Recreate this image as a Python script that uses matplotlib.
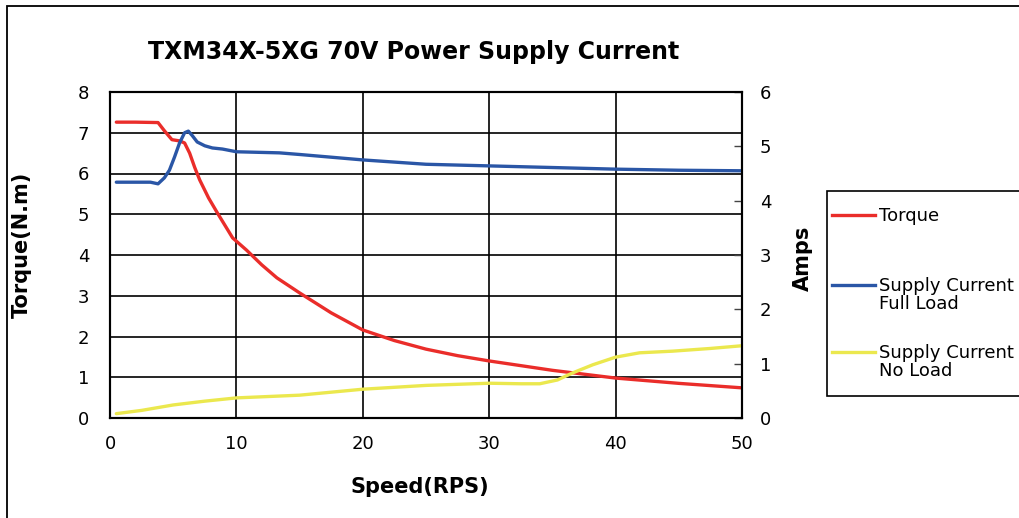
import matplotlib
matplotlib.use("Agg")
import matplotlib.pyplot as plt
from matplotlib.patches import Rectangle
from matplotlib.lines import Line2D

plt.rcParams['font.family'] = ['DejaVu Sans']

# Torque (N.m) vs speed (RPS)
torque_speed = [0.5, 2.0, 3.8, 4.3, 4.9, 5.5, 5.9, 6.3, 6.7, 7.1, 7.8, 8.5, 9.7, 10.8, 12.0, 13.2, 15.0, 17.5, 20.0, 22.5, 25.0, 27.5, 30.0, 35.0, 40.0, 45.0, 50.0]
torque = [7.26, 7.26, 7.25, 7.05, 6.83, 6.80, 6.75, 6.50, 6.15, 5.84, 5.40, 5.03, 4.42, 4.12, 3.76, 3.44, 3.07, 2.58, 2.16, 1.90, 1.69, 1.53, 1.40, 1.17, 0.98, 0.85, 0.74]

# Supply current full load (A)
full_speed = [0.5, 2.0, 3.2, 3.8, 4.3, 4.7, 5.1, 5.5, 5.9, 6.2, 6.5, 6.9, 7.5, 8.1, 8.9, 10.0, 13.4, 15.0, 17.5, 20.0, 25.0, 30.0, 35.0, 40.0, 45.0, 50.0]
full_load = [4.34, 4.34, 4.34, 4.31, 4.42, 4.56, 4.80, 5.06, 5.25, 5.28, 5.20, 5.08, 5.01, 4.97, 4.95, 4.90, 4.88, 4.85, 4.80, 4.75, 4.67, 4.64, 4.61, 4.58, 4.56, 4.55]

# Supply current no load (A)
noload_speed = [0.5, 2.5, 5.0, 7.5, 10.0, 15.0, 20.0, 25.0, 30.0, 32.5, 34.0, 35.4, 36.6, 38.2, 40.0, 41.9, 44.5, 47.5, 50.0]
no_load = [0.08, 0.14, 0.24, 0.31, 0.37, 0.42, 0.53, 0.60, 0.64, 0.63, 0.63, 0.70, 0.83, 0.98, 1.12, 1.20, 1.23, 1.28, 1.33]

x_ticks = [0, 10, 20, 30, 40, 50]
y_left_ticks = [0, 1, 2, 3, 4, 5, 6, 7, 8]
y_right_ticks = [0, 1, 2, 3, 4, 5, 6]
series_labels = ['Torque', 'Supply Current\nFull Load', 'Supply Current\nNo Load']

RED = '#EA2D2A'
BLUE = '#2A56A6'
YELLOW = '#EBE84E'

W, H = 1019, 518
fig = plt.figure(figsize=(W / 100, H / 100), dpi=100)
fx = lambda px: px / W
fy = lambda py: 1 - py / H

fig.add_artist(Rectangle((fx(7), -0.2), 1.5, 1.2 - 6 / H, transform=fig.transFigure,
                         fill=False, edgecolor='black', linewidth=1.3))

ax = fig.add_axes([fx(110), fy(418), 632 / W, 326 / H])
ax2 = ax.twinx()

ax.plot(torque_speed, torque, color=RED, lw=2.4, solid_capstyle='round')
ax2.plot(full_speed, full_load, color=BLUE, lw=2.4, solid_capstyle='round')
ax2.plot(noload_speed, no_load, color=YELLOW, lw=2.4, solid_capstyle='round')

ax.set_xlim(0, 50)
ax.set_ylim(0, 8)
ax2.set_ylim(0, 6)
ax.set_xticks(x_ticks)
ax.set_yticks(y_left_ticks)
ax2.set_yticks(y_right_ticks)

ax.grid(True, color='black', linewidth=1.2)
ax.set_axisbelow(True)
ax.tick_params(axis='both', length=0, labelsize=13)
ax.tick_params(axis='y', pad=15)
ax.tick_params(axis='x', pad=12)
ax2.tick_params(axis='y', direction='in', length=6, width=1, color='#444444', labelsize=13, pad=13)
for a in (ax, ax2):
    for s in a.spines.values():
        s.set_linewidth(1.5)
        s.set_color('black')

fig.text(fx(414), fy(52), 'TXM34X-5XG 70V Power Supply Current', ha='center', va='center',
         fontsize=17, fontweight='bold')
fig.text(fx(22), fy(245), 'Torque(N.m)', rotation=90, ha='center', va='center',
         fontsize=15, fontweight='bold')
fig.text(fx(803), fy(258), 'Amps', rotation=90, ha='center', va='center',
         fontsize=15, fontweight='bold')
fig.text(fx(420), fy(487), 'Speed(RPS)', ha='center', va='center',
         fontsize=15, fontweight='bold')

# Legend box (Excel style: key line aligned with first label line)
fig.add_artist(Rectangle((fx(827), fy(396)), 1.0, (396 - 191) / H, transform=fig.transFigure,
                         fill=True, facecolor='white', edgecolor='black', linewidth=1.2))
for color, label, ly in zip([RED, BLUE, YELLOW], series_labels, [215, 285, 352]):
    fig.add_artist(Line2D([fx(832), fx(875)], [fy(ly), fy(ly)], transform=fig.transFigure,
                          color=color, lw=2.4))
    nextra = label.count('\n')
    fig.text(fx(879), fy(ly + 6 + 18 * nextra), label, ha='left', va='baseline', fontsize=13,
             linespacing=1.0)

fig.savefig('out.png', dpi=100)
